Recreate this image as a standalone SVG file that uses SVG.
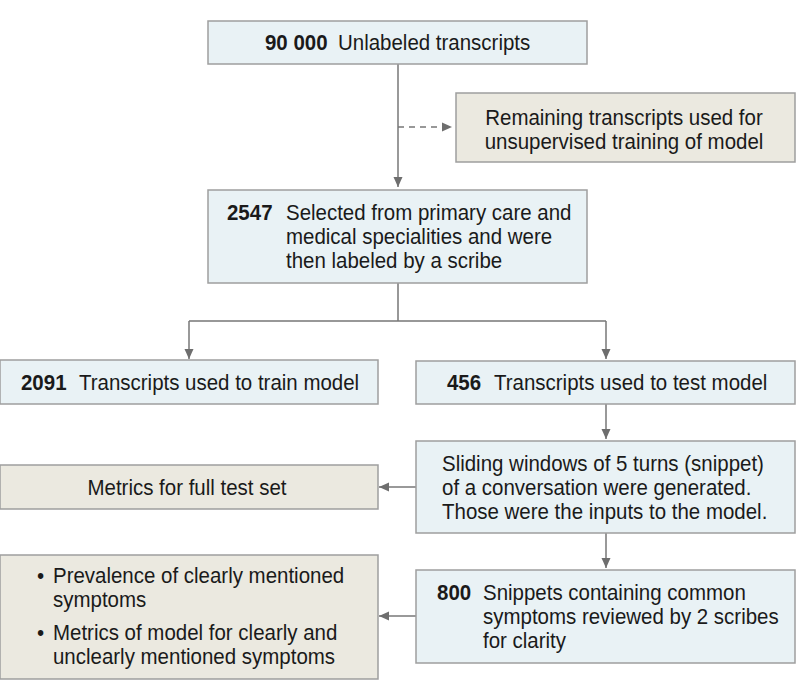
<svg xmlns="http://www.w3.org/2000/svg" width="798" height="700" viewBox="0 0 798 700">
<style>
text{font-family:"Liberation Sans",Arial,sans-serif;font-size:22.5px;fill:#1a1a1a;transform:scaleX(0.91);transform-box:fill-box;transform-origin:left center}
.b{font-weight:bold}
.m{text-anchor:middle;transform-origin:center center}
.blue{fill:#e9f2f5;stroke:#9e9e9e;stroke-width:1.5}
.tan{fill:#ebe9e0;stroke:#9e9e9e;stroke-width:1.5}
.ln{fill:none;stroke:#777;stroke-width:1.5}
.dash{stroke-dasharray:6,5}
</style>
<defs>
<marker id="ah" viewBox="0 0 10 10" refX="10" refY="5" markerWidth="10" markerHeight="10" markerUnits="userSpaceOnUse" orient="auto">
<path d="M0,0.5 L10,5 L0,9.5 Z" fill="#6e6e6e"/>
</marker>
</defs>
<rect width="798" height="700" fill="#fff"/>
<g id="connectors">
<path class="ln" d="M398,64 V187" marker-end="url(#ah)"/>
<path class="ln dash" d="M398,127 H452" marker-end="url(#ah)"/>
<path class="ln" d="M398,283 V321 M189,321 H606"/>
<path class="ln" d="M189,321 V359" marker-end="url(#ah)"/>
<path class="ln" d="M606,321 V359" marker-end="url(#ah)"/>
<path class="ln" d="M606,404 V439" marker-end="url(#ah)"/>
<path class="ln" d="M416,487 H379" marker-end="url(#ah)"/>
<path class="ln" d="M606,533 V568" marker-end="url(#ah)"/>
<path class="ln" d="M416,616 H379" marker-end="url(#ah)"/>
</g>
<g id="n1">
<rect class="blue" x="208" y="21" width="379" height="43"/>
<text x="265" y="50" class="b">90 000</text>
<text x="338" y="50">Unlabeled transcripts</text>
</g>
<g id="n2">
<rect class="tan" x="456" y="93" width="339" height="69"/>
<text class="m" x="624" y="125">Remaining transcripts used for</text>
<text class="m" x="624" y="149">unsupervised training of model</text>
</g>
<g id="n3">
<rect class="blue" x="208" y="190" width="379" height="93"/>
<text x="227" y="220" class="b">2547</text>
<text x="286" y="220">Selected from primary care and</text>
<text x="286" y="244">medical specialities and were</text>
<text x="286" y="268">then labeled by a scribe</text>
</g>
<g id="n4">
<rect class="blue" x="0" y="360" width="378" height="44"/>
<text x="21" y="390" class="b">2091</text>
<text x="79" y="390">Transcripts used to train model</text>
</g>
<g id="n5">
<rect class="blue" x="416" y="361" width="379" height="43"/>
<text x="447" y="390" class="b">456</text>
<text x="494" y="390">Transcripts used to test model</text>
</g>
<g id="n6">
<rect class="blue" x="416" y="441" width="379" height="92"/>
<text x="442" y="471">Sliding windows of 5 turns (snippet)</text>
<text x="442" y="495">of a conversation were generated.</text>
<text x="442" y="519">Those were the inputs to the model.</text>
</g>
<g id="n7">
<rect class="tan" x="0" y="465" width="378" height="44"/>
<text class="m" x="187" y="495">Metrics for full test set</text>
</g>
<g id="n8">
<rect class="blue" x="416" y="570" width="379" height="93"/>
<text x="437" y="600" class="b">800</text>
<text x="483" y="600">Snippets containing common</text>
<text x="483" y="624">symptoms reviewed by 2 scribes</text>
<text x="483" y="648">for clarity</text>
</g>
<g id="n9">
<rect class="tan" x="0" y="555" width="378" height="124"/>
<text x="37" y="583">•</text>
<text x="53" y="583">Prevalence of clearly mentioned</text>
<text x="53" y="607">symptoms</text>
<text x="37" y="640">•</text>
<text x="53" y="640">Metrics of model for clearly and</text>
<text x="53" y="664">unclearly mentioned symptoms</text>
</g>
</svg>
